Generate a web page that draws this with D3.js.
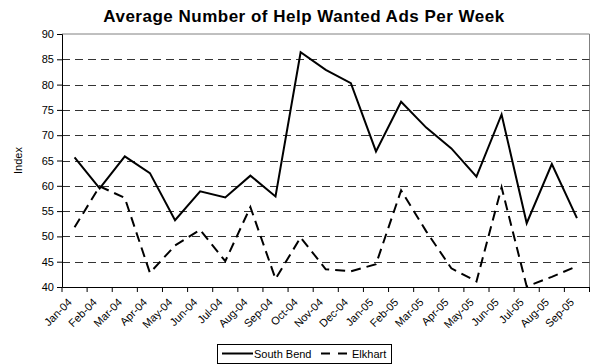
<!DOCTYPE html>
<html>
<head>
<meta charset="utf-8">
<script src="https://cdn.jsdelivr.net/npm/d3@7"></script>
<style>
  body { margin: 0; background: #fff; }
  svg { font-family: "Liberation Sans", Arial, sans-serif; }
</style>
</head>
<body>
<div id="chart"></div>
<script>
// Months on the category axis
const months = ["Jan-04", "Feb-04", "Mar-04", "Apr-04", "May-04", "Jun-04", "Jul-04",
    "Aug-04", "Sep-04", "Oct-04", "Nov-04", "Dec-04", "Jan-05", "Feb-05", "Mar-05",
    "Apr-05", "May-05", "Jun-05", "Jul-05", "Aug-05", "Sep-05"];

// Index values
const southBend = [65.6, 59.5, 65.8, 62.5, 53.2, 58.9, 57.7, 62.0, 57.9, 86.4, 82.9,
    80.3, 66.8, 76.6, 71.5, 67.4, 61.8, 74.1, 52.6, 64.3, 53.6];
const elkhart = [51.8, 59.9, 57.6, 42.8, 48.2, 51.3, 45.1, 55.8, 41.6, 49.8, 43.5,
    43.1, 44.5, 59.1, 51.0, 43.7, 41.1, 59.7, 40.1, 42.0, 44.1];

const yTicks = [40, 45, 50, 55, 60, 65, 70, 75, 80, 85, 90];

const width = 592;
const height = 364;
const margin = { top: 34, right: 2.5, bottom: 77, left: 62 };

const svg = d3.select("#chart")
    .append("svg")
    .attr("width", width)
    .attr("height", height);

const xScale = d3.scaleBand()
    .domain(months)
    .range([margin.left, width - margin.right]);

const yScale = d3.scaleLinear()
    .domain([40, 90])
    .range([height - margin.bottom, margin.top]);

// Plot border (top and right, gray)
svg.append("path")
    .attr("d", `M${margin.left},${yScale(90)}H${width - margin.right}V${yScale(40)}`)
    .attr("fill", "none")
    .attr("stroke", "#808080")
    .attr("stroke-width", 1);

// Dashed gridlines
svg.append("g")
    .selectAll("line")
    .data(yTicks.filter(d => d > 40 && d < 90))
    .enter().append("line")
    .attr("x1", margin.left)
    .attr("x2", width - margin.right)
    .attr("y1", d => Math.round(yScale(d)) + 0.5)
    .attr("y2", d => Math.round(yScale(d)) + 0.5)
    .attr("stroke", "#333")
    .attr("stroke-width", 1)
    .attr("stroke-dasharray", "8 5");

// Y axis
const yAxis = svg.append("g")
    .attr("transform", `translate(${margin.left}, 0)`)
    .call(d3.axisLeft(yScale).tickValues(yTicks).tickSize(5).tickPadding(3));
yAxis.select(".domain").attr("stroke", "#000");
yAxis.selectAll("text")
    .style("font-size", "11px")
    .attr("fill", "#000");

// X axis
const xAxis = svg.append("g")
    .attr("transform", `translate(0, ${height - margin.bottom})`)
    .call(d3.axisBottom(xScale).tickSize(0).tickFormat(""));
xAxis.select(".domain").attr("stroke", "#000");

// Tick marks between categories
xAxis.selectAll(".between")
    .data(months.concat(["end"]))
    .enter().append("line")
    .attr("class", "between")
    .attr("x1", (d, i) => margin.left + i * xScale.step())
    .attr("x2", (d, i) => margin.left + i * xScale.step())
    .attr("y1", 0)
    .attr("y2", 5)
    .attr("stroke", "#000");

// Rotated month labels
svg.append("g")
    .selectAll("text")
    .data(months)
    .enter().append("text")
    .attr("transform", d => `translate(${xScale(d) + xScale.bandwidth() / 2 - 2}, ${height - margin.bottom + 16}) rotate(-45)`)
    .attr("text-anchor", "end")
    .style("font-size", "11px")
    .text(d => d);

// Y axis title
svg.append("text")
    .attr("transform", `translate(22, ${(yScale(90) + yScale(40)) / 2}) rotate(-90)`)
    .attr("text-anchor", "middle")
    .style("font-size", "11px")
    .text("Index");

// Chart title
svg.append("text")
    .attr("x", 304)
    .attr("y", 22)
    .attr("text-anchor", "middle")
    .style("font-size", "17px")
    .style("font-weight", "bold")
    .style("letter-spacing", "0.5px")
    .text("Average Number of Help Wanted Ads Per Week");

const line = d3.line()
    .x((d, i) => xScale(months[i]) + xScale.bandwidth() / 2)
    .y(d => yScale(d));

svg.append("path")
    .datum(southBend)
    .attr("fill", "none")
    .attr("stroke", "#000")
    .attr("stroke-width", 2)
    .attr("d", line);

svg.append("path")
    .datum(elkhart)
    .attr("fill", "none")
    .attr("stroke", "#000")
    .attr("stroke-width", 2)
    .attr("stroke-dasharray", "10 6")
    .attr("d", line);

// Legend
const legend = svg.append("g")
    .attr("transform", "translate(217, 344)");

legend.append("rect")
    .attr("x", 0.5)
    .attr("y", 0.5)
    .attr("width", 174)
    .attr("height", 19)
    .attr("fill", "#fff")
    .attr("stroke", "#000");

legend.append("line")
    .attr("x1", 5).attr("x2", 36)
    .attr("y1", 9.5).attr("y2", 9.5)
    .attr("stroke", "#000")
    .attr("stroke-width", 2);

legend.append("text")
    .attr("x", 37)
    .attr("y", 13.5)
    .style("font-size", "11px")
    .text("South Bend");

legend.append("line")
    .attr("x1", 104).attr("x2", 132)
    .attr("y1", 9.5).attr("y2", 9.5)
    .attr("stroke", "#000")
    .attr("stroke-width", 2)
    .attr("stroke-dasharray", "9 8");

legend.append("text")
    .attr("x", 135)
    .attr("y", 13.5)
    .style("font-size", "11px")
    .text("Elkhart");
</script>
</body>
</html>
